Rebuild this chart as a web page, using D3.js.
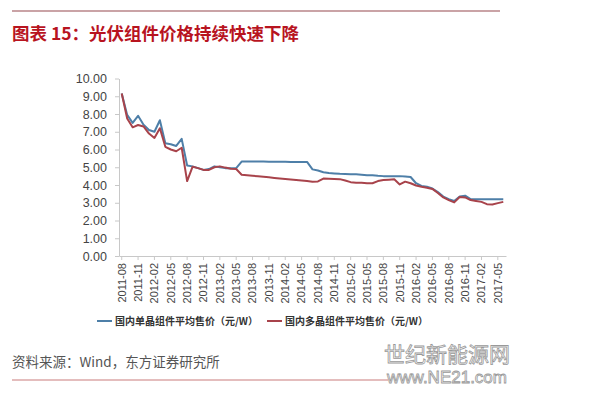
<!DOCTYPE html>
<html>
<head>
<meta charset="utf-8">
<script src="https://cdn.jsdelivr.net/npm/d3@7"></script>
<style>
  body { margin: 0; background: #fff; }
  svg { display: block; font-family: "Liberation Sans", Arial, "Noto Sans CJK SC", sans-serif; }
  .axis path, .axis line { stroke: #c8c8c8; }
  .axis text { fill: #444; }
</style>
</head>
<body>
<div id="chart"></div>
<script>
// Months 2011-08 .. 2017-06, monthly
const months = [
  "2011-08","2011-09","2011-10","2011-11","2011-12",
  "2012-01","2012-02","2012-03","2012-04","2012-05","2012-06","2012-07","2012-08","2012-09","2012-10","2012-11","2012-12",
  "2013-01","2013-02","2013-03","2013-04","2013-05","2013-06","2013-07","2013-08","2013-09","2013-10","2013-11","2013-12",
  "2014-01","2014-02","2014-03","2014-04","2014-05","2014-06","2014-07","2014-08","2014-09","2014-10","2014-11","2014-12",
  "2015-01","2015-02","2015-03","2015-04","2015-05","2015-06","2015-07","2015-08","2015-09","2015-10","2015-11","2015-12",
  "2016-01","2016-02","2016-03","2016-04","2016-05","2016-06","2016-07","2016-08","2016-09","2016-10","2016-11","2016-12",
  "2017-01","2017-02","2017-03","2017-04","2017-05","2017-06"
];

// 国内单晶组件平均售价（元/W）
const monoPrice = [
  9.15, 7.95, 7.50, 7.90, 7.40,
  7.10, 7.00, 7.65, 6.35, 6.30, 6.20, 6.60, 5.10, 5.05, 4.95, 4.85, 4.90,
  5.05, 5.00, 4.95, 4.95, 4.95, 5.32, 5.32, 5.32, 5.32, 5.32, 5.31, 5.31,
  5.31, 5.31, 5.30, 5.30, 5.30, 5.30, 4.88, 4.82, 4.72, 4.67, 4.65, 4.63,
  4.62, 4.60, 4.60, 4.58, 4.55, 4.55, 4.52, 4.50, 4.50, 4.50, 4.50, 4.48,
  4.45, 4.10, 3.95, 3.90, 3.80, 3.60, 3.35, 3.20, 3.10, 3.35, 3.40, 3.20,
  3.20, 3.20, 3.20, 3.20, 3.20, 3.20
];

// 国内多晶组件平均售价（元/W）
const polyPrice = [
  9.15, 7.75, 7.25, 7.38, 7.30,
  6.90, 6.65, 7.20, 6.15, 6.00, 5.90, 6.10, 4.22, 5.03, 4.95, 4.85, 4.85,
  5.00, 5.05, 4.98, 4.92, 4.90, 4.58, 4.55, 4.52, 4.49, 4.46, 4.43, 4.40,
  4.37, 4.34, 4.31, 4.28, 4.25, 4.22, 4.18, 4.20, 4.36, 4.35, 4.34, 4.33,
  4.25, 4.16, 4.13, 4.12, 4.10, 4.10, 4.22, 4.28, 4.30, 4.32, 4.03, 4.19,
  4.10, 3.97, 3.90, 3.85, 3.78, 3.55, 3.30, 3.15, 3.02, 3.32, 3.30, 3.15,
  3.10, 3.05, 2.92, 2.90, 2.98, 3.05
];

const yTicks = [0, 1, 2, 3, 4, 5, 6, 7, 8, 9, 10];
const seriesNames = ["国内单晶组件平均售价（元/W）", "国内多晶组件平均售价（元/W）"];
const seriesColors = ["#4e7fa8", "#a8434b"];

const width = 600, height = 397;
const svg = d3.select("#chart").append("svg").attr("width", width).attr("height", height);

// Header rule and title
svg.append("line").attr("x1", 12).attr("x2", 500).attr("y1", 11).attr("y2", 11)
  .attr("stroke", "#b98589").attr("stroke-width", 1.5);
svg.append("text").attr("x", 12).attr("y", 40)
  .attr("fill", "#b8141f").attr("font-size", 17.5).attr("font-weight", "bold")
  .attr("font-family", "'Noto Sans CJK SC', sans-serif")
  .text("图表 15：光伏组件价格持续快速下降");

// Scales
const x = d3.scaleBand().domain(months).range([119, 506]);
const y = d3.scaleLinear().domain([0, 10]).range([256, 78.5]);
const cx = (d) => x(d) + x.bandwidth() / 2;

// Y axis
svg.append("g").attr("class", "axis")
  .attr("transform", "translate(119,0)")
  .call(d3.axisLeft(y).tickValues(yTicks).tickSize(4).tickSizeOuter(0).tickPadding(8).tickFormat(d3.format(".2f")))
  .call((g) => g.selectAll("text").attr("font-size", 12.5).attr("fill", "#333"));

// X axis, label every 3 months, rotated
const xAxis = svg.append("g").attr("class", "axis")
  .attr("transform", "translate(0,256)")
  .call(d3.axisBottom(x).tickValues(months.filter((d, i) => i % 3 === 0)).tickSize(4).tickSizeOuter(0));
xAxis.selectAll("text")
  .attr("font-size", 11).attr("fill", "#333")
  .attr("transform", "rotate(-90)")
  .attr("text-anchor", "end")
  .attr("x", -7).attr("y", 0).attr("dy", "0.35em");

// Lines
const line = (vals) => d3.line().x((d, i) => cx(months[i])).y((d) => y(d))(vals);
[monoPrice, polyPrice].forEach((vals, k) => {
  svg.append("path").attr("d", line(vals))
    .attr("fill", "none").attr("stroke", seriesColors[k])
    .attr("stroke-width", 2).attr("stroke-linejoin", "round");
});

// Legend
const legendX = [97, 267];
seriesNames.forEach((name, k) => {
  svg.append("line").attr("x1", legendX[k]).attr("x2", legendX[k] + 15)
    .attr("y1", 321).attr("y2", 321).attr("stroke", seriesColors[k]).attr("stroke-width", 2);
  svg.append("text").attr("x", legendX[k] + 18).attr("y", 325)
    .attr("font-size", 10).attr("font-weight", "bold").attr("fill", "#333")
    .attr("font-family", "'Noto Sans CJK SC', sans-serif")
    .text(name);
});

// Source note
svg.append("text").attr("x", 12).attr("y", 367)
  .attr("font-size", 13.5).attr("fill", "#555")
  .attr("font-family", "'Noto Sans CJK SC', sans-serif")
  .text("资料来源：Wind，东方证券研究所");
svg.append("line").attr("x1", 12).attr("x2", 388).attr("y1", 380).attr("y2", 380)
  .attr("stroke", "#c97c7c").attr("stroke-width", 1.2);

// Watermark
svg.append("text").attr("x", 384).attr("y", 362)
  .attr("font-size", 21).attr("fill", "#fff").attr("stroke", "#999").attr("stroke-width", 0.8)
  .attr("font-family", "'Noto Sans CJK SC', sans-serif")
  .text("世纪新能源网");
svg.append("text").attr("x", 387).attr("y", 383)
  .attr("font-size", 17).attr("fill", "#fff").attr("stroke", "#999").attr("stroke-width", 0.8)
  .attr("font-family", "'Liberation Sans', sans-serif")
  .text("www.NE21.com");
</script>
</body>
</html>
